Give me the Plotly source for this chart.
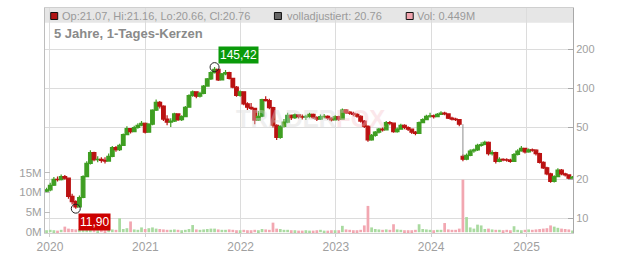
import math
import pandas as pd
import plotly.graph_objects as go

# ---------------- data (~2-week candles) ----------------
START_DATE = "2019-12-19"
STEP = "14D"

closes = [
    16.6, 18.0, 20.0, 19.9, 21.0, 20.4, 14.8, 13.5, 12.3, 14.5,
    21.0, 26.5, 32.0, 28.3, 28.5, 28.0, 27.6, 30.0, 35.0, 33.8,
    36.5, 44.0, 49.0, 46.5, 50.0, 52.0, 53.9, 46.0, 53.0, 68.0,
    78.0, 73.0, 58.0, 55.0, 56.0, 63.5, 57.5, 60.5, 71.5, 88.0,
    94.0, 87.0, 91.5, 104.0, 118.0, 132.0, 140.0, 116.0, 129.0, 132.0,
    119.0, 102.0, 88.0, 94.0, 76.0, 71.5, 70.0, 57.0, 61.0, 82.0,
    80.5, 71.0, 52.0, 42.0, 51.0, 55.0, 62.0, 59.5, 62.4, 60.5,
    60.0, 60.8, 63.0, 59.5, 58.0, 60.5, 61.0, 59.0, 57.3, 60.5,
    58.0, 68.0, 65.5, 64.3, 63.0, 61.0, 56.0, 51.0, 40.1, 43.5,
    46.0, 48.5, 48.0, 54.5, 54.0, 46.5, 48.5, 52.0, 50.0, 48.5,
    46.0, 45.0, 54.5, 57.5, 61.0, 61.5, 60.5, 63.0, 64.5, 63.5,
    59.0, 58.0, 57.5, 53.0, 28.5, 30.5, 33.0, 33.6, 36.5, 37.0,
    38.5, 31.5, 32.0, 27.5, 28.5, 28.2, 28.1, 27.5, 31.0, 33.0,
    34.5, 32.5, 33.6, 33.5, 31.5, 27.0, 24.5, 22.0, 19.3, 21.0,
    23.5, 22.0, 21.6, 20.4, 20.76,
]
highs = [
    17.2, 18.8, 20.8, 21.0, 21.8, 21.6, 20.6, 15.5, 13.8, 15.0,
    21.5, 27.5, 33.5, 32.5, 30.0, 29.5, 29.5, 31.5, 36.0, 36.0,
    37.5, 45.0, 51.0, 49.5, 51.5, 54.0, 56.0, 54.5, 54.0, 69.0,
    82.0, 80.0, 74.0, 62.0, 59.0, 65.0, 64.0, 62.0, 73.0, 90.0,
    96.0, 95.0, 94.0, 106.0, 120.0, 135.0, 145.42, 141.0, 131.0, 138.0,
    134.0, 120.0, 104.0, 96.0, 95.0, 78.0, 77.0, 71.0, 67.0, 83.0,
    87.0, 83.0, 72.0, 53.0, 52.0, 58.0, 65.0, 63.0, 64.0, 63.0,
    63.0, 62.5, 65.0, 64.0, 61.0, 63.0, 63.5, 62.0, 60.0, 62.0,
    61.5, 70.0, 69.0, 67.0, 66.0, 64.5, 62.0, 57.0, 52.0, 44.5,
    47.0, 49.5, 50.0, 56.0, 56.0, 54.5, 50.0, 53.5, 53.0, 51.0,
    49.0, 47.0, 55.5, 59.0, 62.5, 65.0, 63.0, 64.5, 66.5, 66.0,
    64.0, 60.5, 59.5, 58.0, 31.0, 31.5, 34.0, 34.5, 37.5, 38.5,
    39.5, 39.0, 33.5, 32.5, 29.5, 29.0, 29.0, 28.8, 31.8, 34.0,
    36.0, 35.0, 34.5, 34.5, 34.0, 32.0, 27.5, 25.0, 22.5, 21.5,
    24.3, 24.0, 22.5, 21.8, 21.16,
]
lows = [
    15.8, 16.2, 17.8, 19.2, 19.6, 19.8, 14.2, 12.8, 11.9, 12.4,
    14.3, 20.8, 26.0, 27.5, 27.0, 26.8, 26.5, 27.5, 29.5, 32.5,
    33.0, 36.0, 43.5, 45.0, 46.0, 49.0, 51.0, 45.0, 45.5, 52.0,
    67.0, 70.0, 56.0, 52.0, 50.5, 55.0, 56.0, 56.0, 60.0, 71.0,
    86.0, 84.0, 85.0, 90.0, 103.0, 116.0, 130.0, 114.0, 115.0, 126.0,
    117.0, 100.0, 86.0, 86.0, 74.0, 68.0, 68.0, 53.0, 56.0, 60.0,
    79.0, 69.0, 50.0, 40.0, 41.0, 50.0, 54.0, 57.0, 58.0, 58.5,
    57.5, 57.0, 59.0, 58.0, 56.0, 57.0, 58.5, 57.0, 55.5, 56.5,
    56.0, 57.5, 63.5, 62.5, 61.0, 59.5, 54.5, 49.5, 38.9, 39.5,
    42.5, 45.0, 46.5, 47.5, 52.0, 45.5, 45.5, 48.0, 48.5, 47.0,
    44.5, 43.5, 44.5, 54.0, 57.0, 59.5, 58.5, 60.0, 62.5, 62.0,
    58.0, 56.5, 56.0, 51.0, 27.5, 28.0, 30.0, 32.0, 33.0, 35.5,
    36.5, 30.5, 30.5, 26.5, 27.0, 27.5, 27.3, 26.8, 27.2, 30.5,
    32.5, 31.5, 32.0, 32.5, 30.5, 26.5, 24.0, 21.5, 18.8, 18.9,
    20.8, 21.5, 21.0, 20.0, 20.4,
]
volumes_m = [
    0.5, 0.6, 0.5, 0.4, 0.6, 1.4, 0.9, 0.8, 0.7, 0.8,
    1.0, 0.7, 0.8, 0.6, 0.5, 0.6, 0.5, 0.6, 0.7, 0.6,
    3.5, 0.8, 1.0, 2.7, 0.7, 0.6, 1.2, 0.8, 1.0, 1.2,
    0.9, 0.8, 0.7, 0.6, 0.6, 0.7, 0.6, 0.5, 0.6, 0.8,
    1.8, 0.7, 0.6, 0.7, 0.8, 0.9, 0.9, 0.7, 0.6, 0.6,
    0.7, 0.6, 0.5, 0.5, 0.6, 0.5, 0.5, 0.6, 0.5, 0.8,
    0.7, 0.6, 2.4, 0.9, 0.8, 0.6, 0.6, 0.5, 0.5, 0.4,
    0.4, 0.5, 0.4, 0.4, 0.5, 0.6, 0.4, 0.4, 0.5, 0.5,
    0.5, 1.6, 0.7, 0.6, 0.5, 0.5, 0.6, 1.7, 6.6, 1.2,
    0.8, 0.7, 0.6, 0.7, 0.6, 2.0, 0.7, 0.6, 0.5, 0.5,
    0.5, 0.6, 2.0, 0.8, 0.7, 0.6, 0.5, 0.6, 0.6, 2.3,
    0.7, 0.6, 0.6, 0.9, 13.2, 3.8, 1.2, 0.9, 1.9, 1.7,
    0.8, 0.9, 0.7, 0.6, 0.6, 0.5, 0.6, 0.5, 1.5, 0.6,
    0.5, 0.6, 0.7, 0.6, 0.7, 0.8, 0.9, 1.0, 1.7, 1.4,
    1.1, 0.9, 0.8, 0.7, 0.449,
]
FIRST_OPEN = 16.2
GAP_INDEX = 114          # opening gap down (April 2024)
GAP_OPEN = 30.0

year_ticks = ["2020-01-01", "2021-01-01", "2022-01-01", "2023-01-01", "2024-01-01", "2025-01-01"]
year_labels = ["2020", "2021", "2022", "2023", "2024", "2025"]
price_ticks = [10, 20, 50, 100, 200]
vol_ticks = [0, 5e6, 10e6, 15e6]
vol_labels = ["0M", "5M", "10M", "15M"]

header_items = [
    ("Op:21.07, Hi:21.16, Lo:20.66, Cl:20.76", "#b01515"),
    ("volladjustiert: 20.76", "#666666"),
    ("Vol: 0.449M", "#f0a3ad"),
]
title_text = "5 Jahre, 1-Tages-Kerzen"

# ---------------- derived ----------------
n = len(closes)
assert len(highs) == n and len(lows) == n and len(volumes_m) == n
dates = pd.date_range(START_DATE, periods=n, freq=STEP)
opens = [FIRST_OPEN] + closes[:-1]
opens[GAP_INDEX] = GAP_OPEN
volumes = [v * 1e6 for v in volumes_m]

UP = "#3f9e22"
DOWN = "#bb1212"
VOL_UP = "#a9daa0"
VOL_DOWN = "#f2a7b1"
vol_colors = [VOL_UP if c >= o else VOL_DOWN for o, c in zip(opens, closes)]

FONT = "Liberation Sans, Arial, sans-serif"
GREY = "#a0a0a0"

# plot area in pixels: x 45..572.7, y 8..233
PL, PR, PT, PB = 45, 572.7, 8, 233
W, H = PR - PL, PB - PT


def px(x):
    return (x - PL) / W


def py(y):
    return (PB - y) / H


fig = go.Figure()

fig.add_trace(go.Bar(
    x=dates, y=volumes, marker=dict(color=vol_colors, line=dict(width=0)),
    yaxis="y", showlegend=False, hoverinfo="skip",
))

fig.add_trace(go.Candlestick(
    x=dates, open=opens, high=highs, low=lows, close=closes,
    yaxis="y2", showlegend=False, whiskerwidth=0,
    increasing=dict(line=dict(color=UP, width=1.2), fillcolor=UP),
    decreasing=dict(line=dict(color=DOWN, width=1.2), fillcolor=DOWN),
))

# grey connector for the opening gap
fig.add_trace(go.Scatter(
    x=[dates[GAP_INDEX], dates[GAP_INDEX]], y=[closes[GAP_INDEX - 1], opens[GAP_INDEX]],
    yaxis="y2", mode="lines", line=dict(color="#8c8c8c", width=1),
    showlegend=False, hoverinfo="skip",
))

i_hi = max(range(n), key=lambda i: highs[i])
i_lo = min(range(n), key=lambda i: lows[i])
fig.add_trace(go.Scatter(
    x=[dates[i_hi], dates[i_lo]], y=[highs[i_hi], lows[i_lo]], yaxis="y2",
    mode="markers", marker=dict(symbol="circle-open", size=9, color="#222", line=dict(width=1)),
    showlegend=False, hoverinfo="skip",
))

annotations = [
    dict(x=dates[i_hi], y=math.log10(highs[i_hi]), xref="x", yref="y2",
         text=f"{highs[i_hi]:.2f}".replace(".", ","), showarrow=False,
         xanchor="left", yanchor="bottom", xshift=3, yshift=3,
         bgcolor="#0a9a0a", font=dict(family=FONT, size=12, color="white"), borderpad=1),
    dict(x=dates[i_lo], y=math.log10(lows[i_lo]), xref="x", yref="y2",
         text=f"{lows[i_lo]:.2f}".replace(".", ","), showarrow=False,
         xanchor="left", yanchor="top", xshift=2, yshift=-4,
         bgcolor="#cc0000", font=dict(family=FONT, size=12, color="white"), borderpad=1),
    dict(x=px(52), y=py(33.5), xref="paper", yref="paper", text=f"<b>{title_text}</b>",
         showarrow=False, xanchor="left", yanchor="middle",
         font=dict(family=FONT, size=13, color="#8a8a8a")),
    dict(x=px(310), y=py(119), xref="paper", yref="paper",
         text='<b>TRADER<span style="color:#f6c4cc">FOX</span></b>',
         showarrow=False, xanchor="center", yanchor="middle", opacity=0.4,
         font=dict(family=FONT, size=24, color="#d8d8d8")),
]

shapes = [
    dict(type="rect", xref="paper", yref="paper", x0=0, x1=1, y0=py(22.7), y1=1,
         fillcolor="#e6e6e6", line=dict(width=0), layer="below"),
]

sq_x = [50.7, 274.3, 406.0]
txt_x = [60.0, 284.5, 414.5]
for (label, col), sx, tx in zip(header_items, sq_x, txt_x):
    shapes.append(dict(type="rect", xref="paper", yref="paper",
                       x0=px(sx), x1=px(sx + 7), y0=py(19.5), y1=py(12.5),
                       fillcolor=col, line=dict(color="#111", width=1), layer="above"))
    annotations.append(dict(x=px(tx), y=py(16), xref="paper", yref="paper", text=label,
                            showarrow=False, xanchor="left", yanchor="middle",
                            font=dict(family=FONT, size=11, color="#9a9a9a")))

fig.update_layout(
    width=632, height=253, autosize=False,
    margin=dict(l=PL, r=632 - PR, t=PT, b=253 - PB, pad=0),
    paper_bgcolor="white", plot_bgcolor="white",
    font=dict(family=FONT, size=12, color=GREY),
    showlegend=False, bargap=0.25, boxgap=0.0, boxgroupgap=0.0,
    xaxis=dict(
        type="date", range=["2019-12-13", "2025-06-28"], rangeslider=dict(visible=False),
        tickvals=year_ticks, ticktext=year_labels, showgrid=True, gridcolor="#dcdcdc",
        gridwidth=1, showline=True, linecolor="#cfcfcf", mirror=True, ticks="outside",
        ticklen=3, tickcolor="#cfcfcf", tickfont=dict(size=12, color=GREY), zeroline=False,
        automargin=False,
    ),
    yaxis=dict(
        range=[-0.2e6, 56.3e6], tickvals=vol_ticks, ticktext=vol_labels, side="left",
        showgrid=False, zeroline=False, showline=True, linecolor="#bdbdbd",
        ticks="inside", ticklen=5, tickcolor="#bdbdbd", tickfont=dict(size=11.5, color=GREY),
        automargin=False,
    ),
    yaxis2=dict(
        type="log", range=[0.8886, 2.6167], overlaying="y", side="right",
        tickvals=price_ticks, ticktext=[str(v) for v in price_ticks],
        showgrid=True, gridcolor="#dcdcdc", gridwidth=1, zeroline=False,
        showline=True, linecolor="#a8a8a8", ticks="inside", ticklen=5, tickcolor="#a8a8a8",
        tickfont=dict(size=11, color=GREY), automargin=False,
    ),
    annotations=annotations,
    shapes=shapes,
)

fig.write_html("out.html")
